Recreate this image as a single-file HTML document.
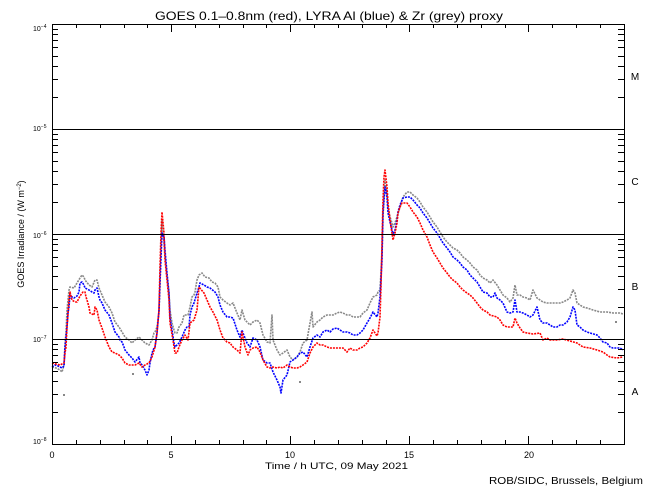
<!DOCTYPE html>
<html>
<head>
<meta charset="utf-8">
<style>
html,body{margin:0;padding:0;background:#fff;}
svg{display:block;}
text{font-family:"Liberation Sans",sans-serif;fill:#000;}
</style>
</head>
<body>
<svg width="650" height="500" viewBox="0 0 650 500" xmlns="http://www.w3.org/2000/svg">
<rect x="0" y="0" width="650" height="500" fill="#fff"/>

<!-- Title -->
<text x="155" y="20" font-size="12" textLength="348" lengthAdjust="spacingAndGlyphs">GOES 0.1–0.8nm (red), LYRA Al (blue) &amp; Zr (grey) proxy</text>

<!-- Data series -->
<g fill="none" stroke-width="1.6" stroke-dasharray="2 1" stroke-linejoin="round">
<polyline stroke="#888888" points="52,367 56,368 60,370 62,372 64,365 65,345 66,332 67,310 69,290 70,287 74,288 77,283 80,278 82,275 84,277 85,280 89,285 92,287 95,280 97,280 99,288 102,295 105,302 109,307 112,313 115,322 119,327 122,332 125,337 129,340 132,343 135,340 139,337 142,340 145,343 149,345 152,340 154,333 155,332 157,327 159,313 160,283 162,220 164,243 165,257 167,277 169,293 170,310 172,323 174,330 175,333 177,333 179,327 182,323 184,315 188,315 190,307 192,297 194,295 195,292 197,280 199,275 202,273 205,277 209,278 212,282 215,283 218,287 220,297 223,300 227,303 230,305 233,303 237,313 240,320 242,310 245,320 250,325 253,322 257,320 260,323 263,335 267,342 270,343 272,315 273,340 277,350 280,355 283,353 287,350 290,357 293,360 297,357 300,352 303,343 307,340 310,323 312,312 313,327 317,322 320,320 323,317 327,315 330,315 333,315 337,313 340,312 343,313 347,315 350,315 353,317 357,317 360,317 363,313 367,310 370,303 373,297 377,295 378,292 380,290 382,253 383,217 385,180 387,193 388,207 390,217 392,223 393,227 395,223 397,217 400,207 403,197 407,192 410,192 413,195 417,198 420,202 423,207 427,212 430,217 433,222 437,227 440,232 443,237 447,242 450,245 453,248 457,250 460,253 463,257 467,260 470,263 473,267 477,270 480,275 483,278 487,280 490,283 493,280 497,285 500,290 503,295 507,298 510,302 513,298 515,285 517,295 520,295 523,297 527,298 530,300 533,290 537,298 540,300 543,302 547,303 560,303 563,302 567,300 570,298 573,290 575,293 577,303 580,305 583,307 587,308 593,310 600,312 607,312 613,313 620,313 623,314"/>
<polyline stroke="#0000ff" points="52,367 55,365 58,366 62,368 64,366 65,347 67,327 68,313 69,307 70,295 72,297 74,298 77,296 79,292 80,283 82,282 84,285 85,288 89,290 92,292 94,293 95,290 97,288 99,297 100,300 102,303 105,310 109,315 112,323 115,332 119,337 120,340 122,342 124,347 125,350 129,355 132,358 135,362 139,357 140,363 142,365 145,370 147,375 149,370 150,363 152,353 154,348 155,347 157,333 159,310 160,283 162,233 164,237 165,250 167,273 169,293 170,317 172,330 174,343 175,347 179,343 182,337 185,330 187,327 189,327 190,315 192,307 194,303 197,293 199,287 200,283 204,285 207,287 210,288 215,292 218,297 220,305 223,312 227,317 230,317 233,318 237,330 240,337 242,330 243,333 247,343 250,347 253,338 257,340 260,347 263,360 267,363 270,363 273,372 277,380 280,387 281,393 283,380 287,375 290,362 293,360 297,357 300,353 303,352 307,357 310,347 313,338 317,335 320,337 323,332 327,330 330,332 333,329 337,328 340,330 343,332 347,332 350,333 353,335 357,335 360,333 363,330 367,323 370,318 373,312 377,317 378,313 380,297 382,260 383,213 385,187 387,197 388,213 390,222 392,230 393,235 395,230 397,220 398,212 400,205 403,198 407,197 410,197 413,200 417,205 420,208 423,213 427,218 430,223 433,228 437,233 440,238 443,243 447,248 450,252 453,257 457,260 460,263 463,267 467,270 470,275 473,278 477,282 480,287 483,292 487,293 490,297 493,297 495,293 497,298 500,300 503,303 507,312 510,313 513,312 515,300 517,312 520,312 523,313 527,315 530,317 533,315 537,307 540,320 543,323 547,323 550,325 553,327 557,327 560,325 563,325 567,322 570,317 573,307 575,310 577,325 580,327 583,330 587,332 590,333 597,335 600,338 603,342 607,343 610,347 613,348 620,348 623,350"/>
<polyline stroke="#ff0000" points="52,363 56,364 60,365 64,363 65,353 66,347 67,327 69,300 70,292 72,300 75,302 77,302 80,296 83,292 85,292 86,297 87,300 89,307 90,313 94,315 95,307 97,310 99,320 102,328 105,337 109,347 112,352 115,353 119,355 122,358 125,363 129,365 135,365 139,363 142,367 145,365 149,363 152,357 155,347 157,333 159,310 160,267 161,233 162,212 164,233 165,260 167,280 169,300 170,323 173,340 175,353 177,353 179,347 182,340 185,335 188,340 190,323 194,320 197,310 199,287 204,293 207,300 210,307 213,312 217,320 220,330 223,338 227,342 230,343 233,347 237,350 240,353 242,332 245,347 248,355 250,350 253,348 257,347 260,352 263,360 267,367 270,368 273,367 277,368 280,367 283,368 287,365 290,367 293,368 297,368 300,367 303,365 307,362 310,353 313,347 317,343 320,345 323,345 327,347 330,348 333,348 337,348 340,348 343,348 347,352 350,348 353,350 357,350 360,348 363,347 367,343 370,338 373,330 377,336 378,333 380,317 381,287 382,243 383,200 384,177 385,170 387,187 388,203 390,220 392,233 393,240 395,233 397,223 398,213 400,207 402,203 403,203 407,203 410,207 413,212 417,217 420,223 423,230 427,237 430,245 433,252 437,258 440,263 443,268 447,273 450,277 453,280 457,283 460,287 463,290 467,293 470,295 473,298 477,303 480,307 483,310 487,312 490,315 497,317 500,320 503,325 507,327 513,327 515,318 517,323 520,328 523,332 527,333 533,334 540,333 543,340 547,338 550,340 557,340 563,339 570,341 577,343 583,347 590,348 597,350 603,352 607,355 610,357 617,358 623,357"/>
</g>
<!-- stray dots -->
<g fill="#888888">
<rect x="63" y="394" width="2" height="2"/>
<rect x="132" y="373" width="2" height="2"/>
<rect x="299" y="381" width="2" height="2"/>
<rect x="615" y="321" width="2" height="2"/>
</g>

<!-- Axis box and decade lines -->
<g stroke="#000" stroke-width="1" fill="none" shape-rendering="crispEdges">
<rect x="52.5" y="24.5" width="572" height="420"/>
<line x1="52" y1="129.5" x2="624" y2="129.5"/>
<line x1="52" y1="234.5" x2="624" y2="234.5"/>
<line x1="52" y1="339.5" x2="624" y2="339.5"/>
</g>

<!-- Y minor ticks (left and right) -->
<g stroke="#000" stroke-width="1" shape-rendering="crispEdges">
<path d="M52 97.5h6M52 79.5h6M52 66.5h6M52 56.5h6M52 47.5h6M52 40.5h6M52 34.5h6M52 29.5h6
M52 202.5h6M52 184.5h6M52 171.5h6M52 161.5h6M52 152.5h6M52 145.5h6M52 139.5h6M52 134.5h6
M52 307.5h6M52 289.5h6M52 276.5h6M52 266.5h6M52 257.5h6M52 250.5h6M52 244.5h6M52 239.5h6
M52 412.5h6M52 394.5h6M52 381.5h6M52 371.5h6M52 362.5h6M52 355.5h6M52 349.5h6M52 344.5h6
M618 97.5h6M618 79.5h6M618 66.5h6M618 56.5h6M618 47.5h6M618 40.5h6M618 34.5h6M618 29.5h6
M618 202.5h6M618 184.5h6M618 171.5h6M618 161.5h6M618 152.5h6M618 145.5h6M618 139.5h6M618 134.5h6
M618 307.5h6M618 289.5h6M618 276.5h6M618 266.5h6M618 257.5h6M618 250.5h6M618 244.5h6M618 239.5h6
M618 412.5h6M618 394.5h6M618 381.5h6M618 371.5h6M618 362.5h6M618 355.5h6M618 349.5h6M618 344.5h6"/>
<!-- X ticks bottom -->
<path d="M76.5 444v-4M100.5 444v-4M124.5 444v-4M147.5 444v-4M171.5 444v-8M195.5 444v-4M219.5 444v-4M243.5 444v-4M266.5 444v-4M290.5 444v-8M314.5 444v-4M338.5 444v-4M362.5 444v-4M386.5 444v-4M409.5 444v-8M433.5 444v-4M457.5 444v-4M481.5 444v-4M505.5 444v-4M528.5 444v-8M552.5 444v-4M576.5 444v-4M600.5 444v-4"/>
<!-- X ticks top -->
<path d="M76.5 24v4M100.5 24v4M124.5 24v4M147.5 24v4M171.5 24v8M195.5 24v4M219.5 24v4M243.5 24v4M266.5 24v4M290.5 24v8M314.5 24v4M338.5 24v4M362.5 24v4M386.5 24v4M409.5 24v8M433.5 24v4M457.5 24v4M481.5 24v4M505.5 24v4M528.5 24v8M552.5 24v4M576.5 24v4M600.5 24v4"/>
</g>

<!-- Y decade labels -->
<g font-size="7">
<text x="33" y="31">10<tspan dy="-3" font-size="5">−4</tspan></text>
<text x="33" y="131">10<tspan dy="-3" font-size="5">−5</tspan></text>
<text x="33" y="238">10<tspan dy="-3" font-size="5">−6</tspan></text>
<text x="33" y="342">10<tspan dy="-3" font-size="5">−7</tspan></text>
<text x="33" y="444">10<tspan dy="-3" font-size="5">−8</tspan></text>
</g>

<!-- Y axis title -->
<text transform="translate(24,234) rotate(-90)" text-anchor="middle" font-size="9">GOES Irradiance / (W m<tspan dy="-3" font-size="6">−2</tspan><tspan dy="3">)</tspan></text>

<!-- X tick labels -->
<g font-size="9" text-anchor="middle">
<text x="52" y="458">0</text>
<text x="171" y="458">5</text>
<text x="290" y="458">10</text>
<text x="409" y="458">15</text>
<text x="529" y="458">20</text>
</g>

<!-- X axis title -->
<text x="265" y="469" font-size="9.5" textLength="143" lengthAdjust="spacingAndGlyphs">Time / h UTC, 09 May 2021</text>

<!-- GOES class letters -->
<g font-size="10" text-anchor="middle">
<text x="635" y="80">M</text>
<text x="635" y="185">C</text>
<text x="635" y="290">B</text>
<text x="635" y="395">A</text>
</g>

<!-- Footer -->
<text x="489" y="484" font-size="10" textLength="154" lengthAdjust="spacingAndGlyphs">ROB/SIDC, Brussels, Belgium</text>
</svg>
</body>
</html>
